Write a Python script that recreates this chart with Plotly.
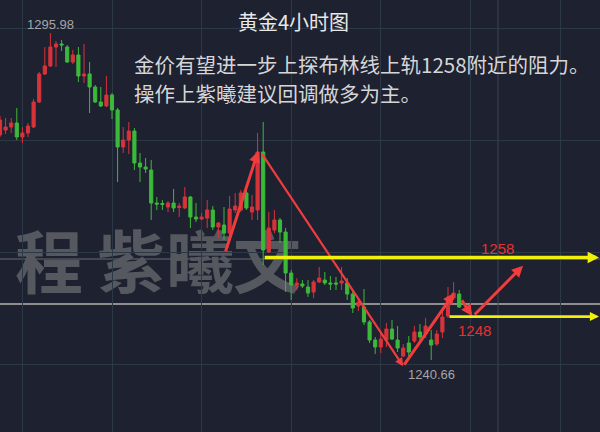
import plotly.graph_objects as go

# ---------------- data ----------------
idx = list(range(83))
opens = [1278.72, 1279.56, 1280.07, 1280.75, 1278.38, 1279.06, 1280.07, 1284.30, 1289.04, 1290.40,
         1293.61, 1294.12, 1293.61, 1291.07, 1292.26, 1288.70, 1289.04, 1286.84, 1284.30, 1283.63,
         1285.49, 1282.95, 1276.69, 1277.87, 1279.39, 1273.98, 1273.30, 1272.80, 1267.21, 1267.13,
         1266.54, 1267.21, 1266.45, 1266.37, 1268.23, 1264.84, 1264.50, 1264.67, 1266.03, 1263.15,
         1263.49, 1262.14, 1266.03, 1266.03, 1268.91, 1265.69, 1266.03, 1275.84, 1258.92, 1262.64,
         1264.34, 1262.30, 1255.37, 1253.34, 1253.51, 1253.00, 1252.15, 1253.85, 1254.18, 1253.68,
         1253.68, 1253.68, 1253.68, 1251.81, 1249.79, 1249.62, 1247.08, 1244.03, 1242.85, 1244.03,
         1245.89, 1244.03, 1241.33, 1243.53, 1243.86, 1245.39, 1245.05, 1244.03, 1243.36, 1245.39,
         1248.09, 1251.14, 1251.81]
closes = [1281.26, 1280.07, 1280.75, 1278.38, 1279.06, 1280.24, 1284.30, 1289.04, 1290.40, 1293.61,
          1294.12, 1293.95, 1291.07, 1292.26, 1288.70, 1289.04, 1286.84, 1284.30, 1283.63, 1285.49,
          1282.95, 1276.69, 1277.87, 1279.39, 1273.98, 1273.30, 1272.97, 1267.21, 1267.04, 1266.96,
          1267.21, 1266.37, 1266.70, 1268.23, 1264.84, 1264.50, 1264.84, 1266.03, 1263.15, 1263.83,
          1262.14, 1266.20, 1266.70, 1268.91, 1266.37, 1266.54, 1275.84, 1259.26, 1262.98, 1264.34,
          1262.30, 1255.37, 1253.34, 1253.68, 1253.17, 1251.98, 1253.85, 1254.52, 1253.68, 1253.51,
          1253.51, 1254.02, 1251.81, 1249.45, 1250.46, 1247.08, 1244.03, 1242.85, 1244.20, 1245.89,
          1244.20, 1242.68, 1242.68, 1242.00, 1245.39, 1244.54, 1246.40, 1243.19, 1245.05, 1247.92,
          1251.31, 1251.98, 1249.62]
highs = [1281.93, 1281.60, 1281.60, 1283.29, 1280.07, 1280.75, 1284.81, 1289.38, 1293.61, 1295.98,
         1294.62, 1294.79, 1293.95, 1293.10, 1293.61, 1294.12, 1291.07, 1287.18, 1286.84, 1288.70,
         1285.82, 1283.29, 1280.07, 1280.92, 1279.90, 1275.67, 1274.83, 1274.49, 1268.23, 1267.72,
         1267.55, 1269.58, 1267.21, 1269.92, 1268.40, 1267.21, 1265.52, 1267.72, 1266.70, 1264.00,
         1266.54, 1268.40, 1268.91, 1269.40, 1269.40, 1268.57, 1279.06, 1280.92, 1265.69, 1266.03,
         1264.67, 1262.98, 1255.88, 1254.52, 1254.18, 1254.18, 1254.18, 1256.38, 1255.54, 1254.86,
         1254.69, 1256.38, 1254.52, 1252.49, 1251.14, 1252.66, 1247.42, 1244.54, 1245.22, 1246.91,
         1247.42, 1246.40, 1243.36, 1244.71, 1246.40, 1246.74, 1247.75, 1245.72, 1245.72, 1248.77,
         1253.00, 1253.85, 1252.49]
lows = [1278.38, 1278.89, 1279.06, 1277.87, 1277.36, 1278.38, 1279.90, 1284.13, 1288.87, 1290.23,
        1290.23, 1292.93, 1290.90, 1290.73, 1287.69, 1287.52, 1282.44, 1284.13, 1283.46, 1283.46,
        1281.43, 1270.77, 1275.67, 1275.50, 1272.80, 1270.77, 1272.29, 1264.34, 1266.03, 1266.03,
        1265.69, 1265.69, 1264.84, 1266.20, 1262.98, 1264.00, 1264.34, 1262.98, 1262.64, 1261.29,
        1260.95, 1260.61, 1265.52, 1265.69, 1266.03, 1264.34, 1264.34, 1256.72, 1258.75, 1262.14,
        1260.44, 1252.15, 1250.80, 1252.49, 1252.83, 1251.31, 1251.14, 1253.68, 1253.34, 1252.49,
        1252.49, 1252.49, 1250.80, 1248.60, 1248.94, 1246.57, 1243.53, 1241.67, 1241.84, 1242.85,
        1244.03, 1242.00, 1241.16, 1240.99, 1243.53, 1243.70, 1244.37, 1240.66, 1243.02, 1244.37,
        1247.75, 1250.80, 1249.45]

title_text = "黄金4小时图"
note_lines = ["金价有望进一步上探布林线上轨1258附近的阻力。", "操作上紫曦建议回调做多为主。"]
watermark_chars = ["程", "紫", "曦", "文"]
levels = [1258, 1248]
level_labels = ["1258", "1248"]
ref_lines = [1257.74, 1250.13]  # gray horizontal lines

# analyst's drawn arrows: (tail index, tail price, head index, head price, width)
red_arrows = [
    (40.2, 1258.8, 46.1, 1276.0, 3.0),
    (46.6, 1275.8, 72.0, 1239.6, 2.2),
    (72.0, 1239.6, 81.1, 1252.0, 3.0),
    (82.3, 1251.0, 84.3, 1248.1, 3.0),
    (84.5, 1248.1, 93.4, 1256.6, 3.0),
]
level_starts = [47.0, 80.0]

# ---------------- styling ----------------
BG = "#1e2130"
GRID = "#2d3846"
RED = "#d8333a"
GREEN = "#3cb93a"
ARROW_RED = "#f03c3c"
YELLOW = "#f0f00a"
CJK = "Noto Sans CJK SC"
PX_PER_BAR = 5.6
Y_TOP = 1301.564
Y_PER_PX = 0.1692
W, H = 600, 432

fig = go.Figure()
fig.add_trace(go.Candlestick(
    x=idx, open=opens, high=highs, low=lows, close=closes,
    increasing=dict(line=dict(color=RED, width=1), fillcolor=RED),
    decreasing=dict(line=dict(color=GREEN, width=1), fillcolor=GREEN),
    whiskerwidth=0, hoverinfo="skip", showlegend=False,
))

shapes = []
# watermark (below gridlines)
wm_px = [49, 131, 200, 267]
for ch, px in zip(watermark_chars, wm_px):
    xi = px / PX_PER_BAR
    yc = Y_TOP - Y_PER_PX * 269
    shapes.append(dict(type="rect", xref="x", yref="y", x0=xi - 6, x1=xi + 6,
                       y0=yc - 5, y1=yc + 5, line=dict(width=0), fillcolor="rgba(0,0,0,0)",
                       layer="below",
                       label=dict(text=ch, textposition="middle center",
                                  font=dict(family=CJK, size=68, color="#55585f", weight=700))))
# gray reference lines
shapes.append(dict(type="line", xref="paper", yref="y", x0=0, x1=1, y0=ref_lines[0], y1=ref_lines[0],
                   line=dict(color="#4e535e", width=1.5), layer="between"))
shapes.append(dict(type="line", xref="paper", yref="y", x0=0, x1=1, y0=ref_lines[1], y1=ref_lines[1],
                   line=dict(color="#8e8e8e", width=1.8), layer="between"))
# extra vertical line
shapes.append(dict(type="line", xref="x", yref="paper", x0=498 / PX_PER_BAR, x1=498 / PX_PER_BAR,
                   y0=0, y1=1, line=dict(color="#3a4553", width=1), layer="below"))

ann = []
# red arrows
for (x0, y0, x1, y1, w) in red_arrows:
    ann.append(dict(x=x1, y=y1, ax=x0, ay=y0, xref="x", yref="y", axref="x", ayref="y",
                    text="", showarrow=True, arrowhead=2, arrowsize=0.75, arrowwidth=w,
                    arrowcolor=ARROW_RED))
# yellow level arrows
x_end = 599 / PX_PER_BAR
for lv, xs, wd in zip(levels, level_starts, [3.5, 2.8]):
    ann.append(dict(x=x_end, y=lv, ax=xs, ay=lv, xref="x", yref="y", axref="x", ayref="y",
                    text="", showarrow=True, arrowhead=2, arrowsize=0.65, arrowwidth=wd,
                    arrowcolor=YELLOW))
# level labels
ann.append(dict(x=497 / W, y=1 - 248 / H, xref="paper", yref="paper", text=level_labels[0],
                xanchor="center", yanchor="middle",
                showarrow=False, font=dict(family="Liberation Sans", size=15, color="#e8302e")))
ann.append(dict(x=474 / W, y=1 - 330 / H, xref="paper", yref="paper", text=level_labels[1],
                xanchor="center", yanchor="middle",
                showarrow=False, font=dict(family="Liberation Sans", size=15, color="#e8302e")))
# high / low labels
i_hi = highs.index(max(highs))
i_lo = lows.index(min(lows))
ann.append(dict(x=idx[i_hi], y=highs[i_hi], xref="x", yref="y", text=f"{highs[i_hi]:.2f}",
                showarrow=False, xanchor="center", yanchor="bottom", yshift=-1,
                font=dict(family="Liberation Sans", size=13, color="#a6a6a6")))
ann.append(dict(x=idx[i_lo], y=lows[i_lo], xref="x", yref="y", text=f"{lows[i_lo]:.2f}",
                showarrow=False, xanchor="center", yanchor="top", yshift=-5,
                font=dict(family="Liberation Sans", size=13, color="#a6a6a6")))
# title and notes
ann.append(dict(x=293 / W, y=1 - 21 / H, xref="paper", yref="paper", text=title_text,
                xanchor="center", yanchor="middle",
                showarrow=False, font=dict(family=CJK, size=20, color="#e8e8e8")))
for line, yy in zip(note_lines, [64, 93.5]):
    ann.append(dict(x=133 / W, y=1 - yy / H, xref="paper", yref="paper",
                    text=line, align="left", borderpad=0,
                    showarrow=False, xanchor="left", yanchor="middle",
                    font=dict(family=CJK, size=20.5, color="#d6d6d6")))

fig.update_layout(
    width=W, height=H, autosize=False,
    margin=dict(l=0, r=0, t=0, b=0, pad=0),
    paper_bgcolor=BG, plot_bgcolor=BG,
    boxgap=0.2,
    shapes=shapes, annotations=ann,
    showlegend=False,
    xaxis=dict(range=[0, W / PX_PER_BAR], showgrid=True, gridcolor=GRID, gridwidth=1,
               tick0=4, dtick=16, showticklabels=False, zeroline=False, showline=False,
               ticks="", rangeslider=dict(visible=False), fixedrange=True),
    yaxis=dict(range=[Y_TOP - Y_PER_PX * H, Y_TOP], showgrid=True, gridcolor=GRID, gridwidth=1,
               tick0=1239.97, dtick=18.9, showticklabels=False, zeroline=False, showline=False,
               ticks="", fixedrange=True),
)

fig.write_html("out.html", config={"displayModeBar": False},
               post_script="document.body.style.margin='0';document.body.style.overflow='hidden';"
                           "document.documentElement.style.overflow='hidden';")
